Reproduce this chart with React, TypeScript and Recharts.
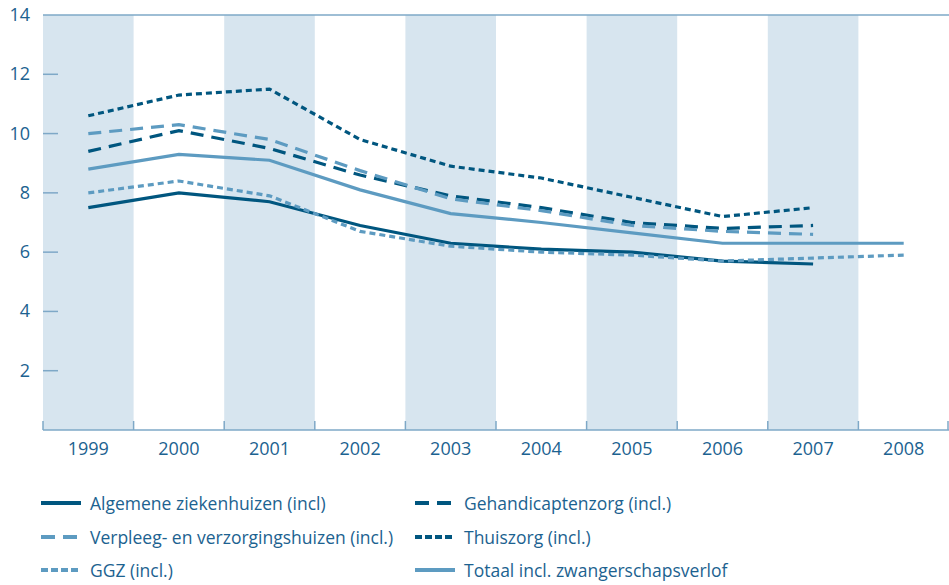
import React from "react";
import {
  ComposedChart,
  Line,
  XAxis,
  YAxis,
  ReferenceArea,
  ReferenceLine,
} from "recharts";

const years = ["1999", "2000", "2001", "2002", "2003", "2004", "2005", "2006", "2007", "2008"];
const shadedYears = ["1999", "2001", "2003", "2005", "2007"];
const yTicks = [2, 4, 6, 8, 10, 12, 14];

const algemene = [7.5, 8.0, 7.7, 6.9, 6.3, 6.1, 6.0, 5.7, 5.6, null];
const gehandicapten = [9.4, 10.1, 9.5, 8.6, 7.9, 7.5, 7.0, 6.8, 6.9, null];
const verpleeg = [10.0, 10.3, 9.8, 8.75, 7.8, 7.4, 6.9, 6.7, 6.6, null];
const thuiszorg = [10.6, 11.3, 11.5, 9.8, 8.9, 8.5, 7.85, 7.2, 7.5, null];
const ggz = [8.0, 8.4, 7.9, 6.7, 6.2, 6.0, 5.9, 5.7, 5.8, 5.9];
const totaal = [8.8, 9.3, 9.1, 8.1, 7.3, 7.0, 6.65, 6.3, 6.3, 6.3];

const DARK = "#00567f";
const LIGHT = "#5d9bc1";
const BAND_FILL = "#d7e5ef";
const AXIS = "#7ea8c7";
const TEXT = "#1c6290";
const FONT = "'Open Sans', 'Noto Sans', sans-serif";

const series = [
  { key: "algemene", name: "Algemene ziekenhuizen (incl)", color: DARK, dash: undefined as string | undefined, values: algemene },
  { key: "gehandicapten", name: "Gehandicaptenzorg (incl.)", color: DARK, dash: "13 8", values: gehandicapten },
  { key: "verpleeg", name: "Verpleeg- en verzorgingshuizen (incl.)", color: LIGHT, dash: "13 8", values: verpleeg },
  { key: "thuiszorg", name: "Thuiszorg (incl.)", color: DARK, dash: "6 4", values: thuiszorg },
  { key: "ggz", name: "GGZ (incl.)", color: LIGHT, dash: "6 4", values: ggz },
  { key: "totaal", name: "Totaal incl. zwangerschapsverlof", color: LIGHT, dash: undefined, values: totaal },
];

const data = years.map((year, i) => {
  const row: Record<string, any> = { year };
  series.forEach((s) => {
    row[s.key] = s.values[i];
  });
  return row;
});

const CHART_W = 949;
const CHART_H = 465;
const Y_AXIS_W = 43;
const X_AXIS_H = 35;
const TOP = 15;
const PLOT_W = CHART_W - Y_AXIS_W;
const BAND = PLOT_W / years.length;
const PLOT_BOTTOM = CHART_H - X_AXIS_H;

const YTick = (props: any) => {
  const { y, payload } = props;
  return (
    <g>
      {payload.value !== 14 && (
        <line x1={Y_AXIS_W} x2={Y_AXIS_W + 15} y1={y} y2={y} stroke={AXIS} strokeWidth={1.5} />
      )}
      <text x={30} y={y} dy={6} textAnchor="end" fill={TEXT} fontSize={18} fontFamily={FONT}>
        {payload.value}
      </text>
    </g>
  );
};

const XTick = (props: any) => {
  const { x, y, payload, index } = props;
  const half = BAND / 2;
  return (
    <g>
      <line x1={x - half} x2={x - half} y1={PLOT_BOTTOM} y2={PLOT_BOTTOM - 9} stroke={AXIS} strokeWidth={1.5} />
      {index === years.length - 1 && (
        <line x1={x + half - 1} x2={x + half - 1} y1={PLOT_BOTTOM} y2={PLOT_BOTTOM - 9} stroke={AXIS} strokeWidth={1.5} />
      )}
      <text x={x} y={y + 25} textAnchor="middle" fill={TEXT} fontSize={18} fontFamily={FONT}>
        {payload.value}
      </text>
    </g>
  );
};

const legendPos = [
  { left: 41, top: 503 },
  { left: 415, top: 503 },
  { left: 41, top: 537 },
  { left: 415, top: 537 },
  { left: 41, top: 570 },
  { left: 415, top: 570 },
];

const legendDash: Record<string, string | undefined> = {
  algemene: undefined,
  gehandicapten: "14 8",
  verpleeg: "14 8",
  thuiszorg: "7 3",
  ggz: "7 3",
  totaal: undefined,
};

export default function App() {
  return (
    <div style={{ position: "absolute", left: 0, top: 0, width: 949, height: 585, background: "#fff" }}>
      <ComposedChart
        width={CHART_W}
        height={CHART_H}
        data={data}
        margin={{ top: TOP, right: 0, left: 0, bottom: 0 }}
      >
        <XAxis
          dataKey="year"
          scale="band"
          interval={0}
          height={X_AXIS_H}
          tickLine={false}
          tickSize={0}
          tickMargin={0}
          axisLine={{ stroke: AXIS, strokeWidth: 1.5 }}
          tick={<XTick />}
        />
        <YAxis
          domain={[0, 14]}
          ticks={yTicks}
          width={Y_AXIS_W}
          axisLine={false}
          tickLine={false}
          tickSize={0}
          tickMargin={0}
          tick={<YTick />}
        />
        {shadedYears.map((yr) => (
          <ReferenceArea
            key={yr}
            x1={yr}
            x2={yr}
            y1={0}
            y2={14}
            fill={BAND_FILL}
            fillOpacity={1}
            stroke="none"
            ifOverflow="visible"
          />
        ))}
        <ReferenceLine y={14} stroke={AXIS} strokeWidth={1.5} ifOverflow="visible" />
        {series.map((s) => (
          <Line
            key={s.key}
            dataKey={s.key}
            name={s.name}
            stroke={s.color}
            strokeWidth={3.2}
            strokeDasharray={s.dash}
            dot={false}
            activeDot={false}
            isAnimationActive={false}
            type="linear"
          />
        ))}
      </ComposedChart>
      {series.map((s, i) => (
        <div
          key={s.key}
          style={{
            position: "absolute",
            left: legendPos[i].left,
            top: legendPos[i].top - 12,
            height: 24,
            display: "flex",
            alignItems: "center",
            fontFamily: FONT,
            fontSize: 17.5,
            color: TEXT,
            whiteSpace: "nowrap",
          }}
        >
          <svg width={40} height={24} style={{ marginRight: 9 }}>
            <line x1={0} x2={40} y1={12} y2={12} stroke={s.color} strokeWidth={4} strokeDasharray={legendDash[s.key]} />
          </svg>
          <span>{s.name}</span>
        </div>
      ))}
    </div>
  );
}
